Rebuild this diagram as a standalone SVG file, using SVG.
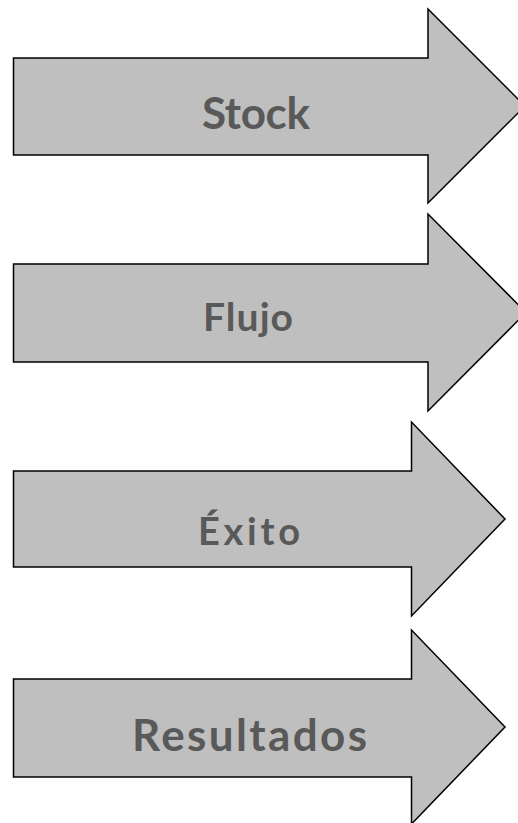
<svg xmlns="http://www.w3.org/2000/svg" width="518" height="823" viewBox="0 0 518 823">
<style>
.arrow{fill:#bfbfbf;stroke:#000;stroke-width:1.5;stroke-linejoin:miter}
.lbl{font-family:Lato,"Liberation Sans",sans-serif;font-weight:bold;fill:#595959;text-anchor:middle}
</style>
<rect width="518" height="823" fill="#fff"/>
<g id="stock">
<path class="arrow" d="M13.5,58 H428 V9 L525,106 L428,203 V155 H13.5 Z"/>
<text class="lbl" x="256" y="129" font-size="44" textLength="108" lengthAdjust="spacing">Stock</text>
</g>
<g id="flujo">
<path class="arrow" d="M13.5,264 H428 V214 L526,312.5 L428,411 V362 H13.5 Z"/>
<text class="lbl" x="248" y="331" font-size="39" textLength="90" lengthAdjust="spacing">Flujo</text>
</g>
<g id="exito">
<path class="arrow" d="M13.5,471 H411.5 V422 L505,519 L411.5,616 V567 H13.5 Z"/>
<text class="lbl" x="249" y="545" font-size="38" textLength="102" lengthAdjust="spacing">Éxito</text>
</g>
<g id="resultados">
<path class="arrow" d="M13.5,679 H411.5 V630 L505,727 L411.5,824 V777 H13.5 Z"/>
<text class="lbl" x="249.5" y="751" font-size="44" textLength="235" lengthAdjust="spacing">Resultados</text>
</g>
<g id="connectors"></g>
</svg>
